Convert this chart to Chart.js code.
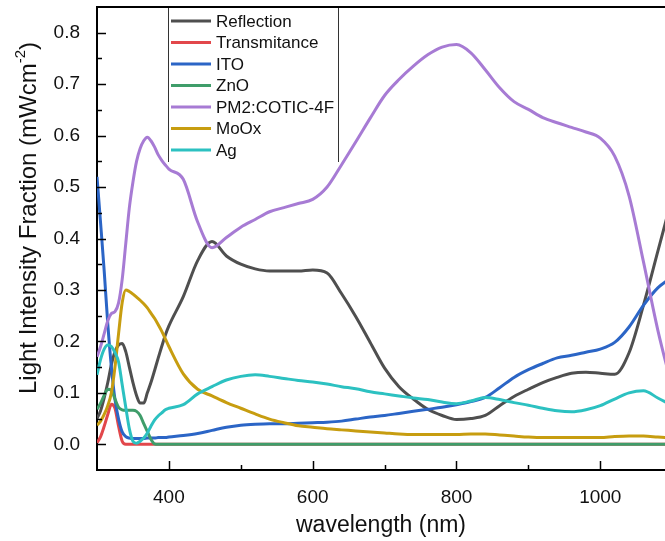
<!DOCTYPE html>
<html>
<head>
<meta charset="utf-8">
<script src="https://cdn.jsdelivr.net/npm/chart.js@4.4.1/dist/chart.umd.min.js"></script>
<style>
  html, body { margin: 0; padding: 0; background: #fff; overflow: hidden; }
  canvas { display: block; }
</style>
</head>
<body>
<canvas id="chart" width="665" height="541"></canvas>
<script>
// wavelength grid (nm), dense below 400 where the curves change fast
const wavelength = [300, 305, 310, 315, 320, 325, 330, 335, 340, 345, 350, 355, 360, 365, 370, 375, 380, 385, 390, 395, 400,
    420, 440, 460, 480, 500, 520, 540, 560, 580, 600, 620, 640, 660, 680, 700, 720, 740, 760, 780, 800,
    820, 840, 860, 880, 900, 920, 940, 960, 980, 1000, 1020, 1040, 1060, 1080, 1100];

const reflection = [0.05, 0.065, 0.09, 0.12, 0.155, 0.18, 0.193, 0.196, 0.18, 0.15, 0.12, 0.095, 0.08, 0.08, 0.1, 0.12, 0.143, 0.167, 0.19, 0.212, 0.23,
    0.287, 0.357, 0.394, 0.366, 0.35, 0.341, 0.337, 0.337, 0.337, 0.339, 0.333, 0.293, 0.248, 0.198, 0.148, 0.112, 0.088, 0.068, 0.056, 0.048,
    0.05, 0.056, 0.075, 0.093, 0.107, 0.12, 0.13, 0.138, 0.14, 0.138, 0.136, 0.178, 0.27, 0.375, 0.48];

const transmitance = [0.003, 0.015, 0.035, 0.058, 0.078, 0.07, 0.035, 0.006, 0, 0, 0, 0, 0, 0, 0, 0, 0, 0, 0, 0, 0,
    0, 0, 0, 0, 0, 0, 0, 0, 0, 0, 0, 0, 0, 0, 0, 0, 0, 0, 0, 0,
    0, 0, 0, 0, 0, 0, 0, 0, 0, 0, 0, 0, 0, 0, 0];

const ito = [0.52, 0.43, 0.337, 0.234, 0.15, 0.087, 0.049, 0.024, 0.015, 0.012, 0.011, 0.011, 0.011, 0.011, 0.012, 0.012, 0.012, 0.013, 0.013, 0.013, 0.014,
    0.017, 0.021, 0.027, 0.033, 0.037, 0.039, 0.04, 0.04, 0.041, 0.042, 0.043, 0.045, 0.049, 0.053, 0.056, 0.06, 0.064, 0.068, 0.072, 0.077,
    0.083, 0.091, 0.11, 0.13, 0.145, 0.157, 0.168, 0.173, 0.179, 0.185, 0.198, 0.228, 0.27, 0.304, 0.325];

const zno = [0.068, 0.08, 0.095, 0.107, 0.105, 0.088, 0.072, 0.067, 0.066, 0.066, 0.066, 0.064, 0.056, 0.04, 0.025, 0.01, 0.001, 0, 0, 0, 0,
    0, 0, 0, 0, 0, 0, 0, 0, 0, 0, 0, 0, 0, 0, 0, 0, 0, 0, 0, 0,
    0, 0, 0, 0, 0, 0, 0, 0, 0, 0, 0, 0, 0, 0, 0];

const pm2 = [0.17, 0.19, 0.215, 0.24, 0.254, 0.258, 0.275, 0.32, 0.39, 0.46, 0.51, 0.55, 0.575, 0.59, 0.597, 0.59, 0.578, 0.563, 0.552, 0.543, 0.535,
    0.515, 0.432, 0.382, 0.402, 0.422, 0.437, 0.452, 0.46, 0.468, 0.476, 0.5, 0.543, 0.588, 0.634, 0.678, 0.709, 0.735, 0.757, 0.772, 0.777,
    0.761, 0.728, 0.693, 0.666, 0.651, 0.635, 0.625, 0.616, 0.607, 0.595, 0.56, 0.483, 0.355, 0.222, 0.11];

const moox = [0.037, 0.045, 0.058, 0.075, 0.1, 0.15, 0.215, 0.275, 0.3, 0.297, 0.292, 0.286, 0.28, 0.273, 0.265, 0.255, 0.245, 0.233, 0.22, 0.205, 0.19,
    0.137, 0.107, 0.094, 0.081, 0.07, 0.059, 0.049, 0.042, 0.036, 0.033, 0.03, 0.028, 0.026, 0.024, 0.022, 0.02, 0.019, 0.019, 0.019, 0.019,
    0.02, 0.02, 0.018, 0.016, 0.014, 0.013, 0.013, 0.013, 0.013, 0.013, 0.015, 0.016, 0.016, 0.014, 0.012];

const ag = [0.135, 0.165, 0.185, 0.193, 0.19, 0.178, 0.16, 0.116, 0.072, 0.03, 0.006, 0.002, 0.006, 0.012, 0.022, 0.035, 0.047, 0.055, 0.061, 0.067, 0.07,
    0.077, 0.098, 0.112, 0.125, 0.132, 0.135, 0.132, 0.128, 0.124, 0.121, 0.117, 0.112, 0.108, 0.102, 0.098, 0.094, 0.09, 0.087, 0.082, 0.079,
    0.084, 0.091, 0.087, 0.081, 0.076, 0.07, 0.065, 0.063, 0.067, 0.075, 0.088, 0.1, 0.104, 0.09, 0.075];

const seriesNames = ['Reflection', 'Transmitance', 'ITO', 'ZnO', 'PM2:COTIC-4F', 'MoOx', 'Ag'];
const seriesColors = ['#4f4f4f', '#e2474b', '#2b65c6', '#3f9d6a', '#a77bd4', '#c79d10', '#2cc1c1'];

const xMajorTicks = [400, 600, 800, 1000];
const xMinorTicks = [500, 700, 900];
const yMajorTicks = [0, 0.1, 0.2, 0.3, 0.4, 0.5, 0.6, 0.7, 0.8];
const yMinorTicks = [0.05, 0.15, 0.25, 0.35, 0.45, 0.55, 0.65, 0.75];

const FONT = "'Liberation Sans', Arial, sans-serif";
const INK = '#111';

const seriesValues = [reflection, transmitance, ito, zno, pm2, moox, ag];

const datasets = seriesValues.map((values, i) => ({
    label: seriesNames[i],
    data: values.map((v, k) => ({ x: wavelength[k], y: v })),
    borderColor: seriesColors[i],
    backgroundColor: seriesColors[i],
    borderWidth: 3,
    pointRadius: 0,
    cubicInterpolationMode: 'monotone',
    fill: false,
    // later series sit on top, like the original plot
    order: seriesValues.length - i,
}));

// frame top edge, inward ticks, boxed legend and the y title with its superscript
const decorations = {
    id: 'decorations',
    afterDatasetsDraw(chart) {
        const { ctx, chartArea: area, scales: { x, y } } = chart;
        const seg = (x1, y1, x2, y2) => {
            ctx.beginPath();
            ctx.moveTo(x1, y1);
            ctx.lineTo(x2, y2);
            ctx.stroke();
        };

        ctx.save();
        ctx.strokeStyle = '#000';
        ctx.lineWidth = 2;
        seg(area.left - 1, area.top, area.right, area.top);

        ctx.lineWidth = 1.5;
        xMajorTicks.forEach((v) => { const px = Math.round(x.getPixelForValue(v)) + 0.5; seg(px, area.bottom, px, area.bottom - 9); });
        xMinorTicks.forEach((v) => { const px = Math.round(x.getPixelForValue(v)) + 0.5; seg(px, area.bottom, px, area.bottom - 5); });
        yMajorTicks.forEach((v) => { const py = Math.round(y.getPixelForValue(v)) + 0.5; seg(area.left, py, area.left + 9, py); });
        yMinorTicks.forEach((v) => { const py = Math.round(y.getPixelForValue(v)) + 0.5; seg(area.left, py, area.left + 5, py); });

        // legend box hanging from the top frame
        const box = { left: 168, right: 338, top: area.top + 1, bottom: 162 };
        ctx.fillStyle = '#fff';
        ctx.fillRect(box.left, box.top, box.right - box.left, box.bottom - box.top);
        ctx.lineWidth = 1;
        ctx.strokeStyle = '#333';
        seg(box.left + 0.5, box.top, box.left + 0.5, box.bottom);
        seg(box.right + 0.5, box.top, box.right + 0.5, box.bottom);

        ctx.font = `17px ${FONT}`;
        ctx.textBaseline = 'middle';
        ctx.textAlign = 'left';
        chart.data.datasets.forEach((ds, i) => {
            const rowY = 21 + i * 21.5;
            ctx.strokeStyle = ds.borderColor;
            ctx.lineWidth = 3;
            seg(171, rowY, 211, rowY);
            ctx.fillStyle = INK;
            ctx.fillText(ds.label, 216, rowY + 1);
        });

        // y axis title, rotated, with a real superscript
        const main = 'Light Intensity Fraction (mWcm';
        const sup = '-2';
        const tail = ')';
        ctx.translate(29, 218);
        ctx.rotate(-Math.PI / 2);
        ctx.fillStyle = INK;
        ctx.font = `24px ${FONT}`;
        const wMain = ctx.measureText(main).width;
        const wTail = ctx.measureText(tail).width;
        ctx.font = `15px ${FONT}`;
        const wSup = ctx.measureText(sup).width;
        let cx = -(wMain + wSup + wTail) / 2;
        ctx.font = `24px ${FONT}`;
        ctx.fillText(main, cx, 0);
        cx += wMain;
        ctx.font = `15px ${FONT}`;
        ctx.fillText(sup, cx, -8);
        cx += wSup;
        ctx.font = `24px ${FONT}`;
        ctx.fillText(tail, cx, 0);

        ctx.restore();
    },
};

new Chart(document.getElementById('chart'), {
    type: 'line',
    data: { datasets },
    options: {
        responsive: false,
        devicePixelRatio: 1,
        animation: false,
        layout: { padding: { top: 7, left: 0, right: 0, bottom: 0 } },
        plugins: {
            legend: { display: false },
            tooltip: { enabled: false },
        },
        scales: {
            x: {
                type: 'linear',
                min: 300,
                max: 1090,
                afterBuildTicks: (scale) => { scale.ticks = xMajorTicks.map((value) => ({ value })); },
                afterFit: (scale) => {
                    scale.height = 71;
                    scale.paddingLeft = 0;
                    scale.paddingRight = 0;
                },
                grid: { display: false },
                border: { display: true, color: '#000', width: 2 },
                ticks: {
                    padding: 8,
                    color: INK,
                    font: { family: FONT, size: 19 },
                    maxRotation: 0,
                    callback: (v) => String(v),
                },
                title: {
                    display: true,
                    text: 'wavelength (nm)',
                    color: INK,
                    font: { family: FONT, size: 23 },
                    padding: { top: 0, bottom: 2 },
                },
            },
            y: {
                type: 'linear',
                min: -0.05,
                max: 0.85,
                afterBuildTicks: (scale) => { scale.ticks = yMajorTicks.map((value) => ({ value })); },
                afterFit: (scale) => {
                    scale.width = 97;
                    scale.paddingTop = 0;
                    scale.paddingBottom = 0;
                },
                grid: { display: false },
                border: { display: true, color: '#000', width: 2 },
                ticks: {
                    padding: 9,
                    color: INK,
                    font: { family: FONT, size: 19 },
                    callback: (v) => Number(v).toFixed(1),
                },
            },
        },
    },
    plugins: [decorations],
});
</script>
</body>
</html>
